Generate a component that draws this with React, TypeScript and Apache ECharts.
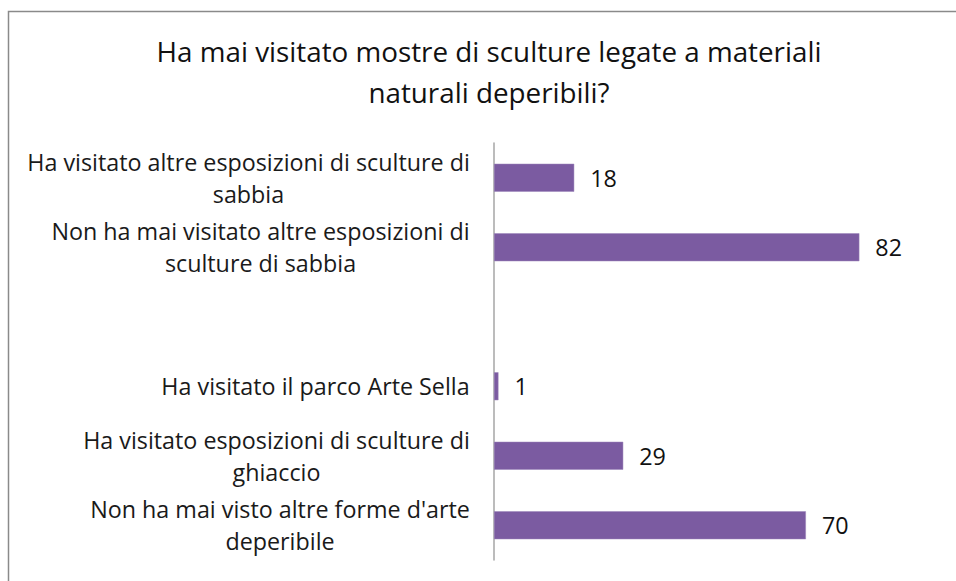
import React, { useEffect, useRef } from "react";
import * as echarts from "echarts";

const titleLines = ["Ha mai visitato mostre di sculture legate a materiali", "naturali deperibili?"];
const categories = [
  "Ha visitato altre esposizioni di sculture di\nsabbia",
  "Non ha mai visitato altre esposizioni di\nsculture di sabbia",
  "",
  "Ha visitato il parco Arte Sella",
  "Ha visitato esposizioni di sculture di\nghiaccio",
  "Non ha mai visto altre forme d'arte\ndeperibile",
];
const values: (number | null)[] = [18, 82, null, 1, 29, 70];

const FONT = "'Open Sans', Lato, sans-serif";
const LABEL_SIZE = 23.3;
const TITLE_SIZE = 27.8;
const BAR_COLOR = "#7B5BA1";

function measure(text: string, size: number): number {
  const c = document.createElement("canvas").getContext("2d");
  if (!c) return text.length * size * 0.5;
  c.font = `${size}px 'Open Sans'`;
  return c.measureText(text).width;
}

export default function App() {
  const ref = useRef<HTMLDivElement>(null);
  useEffect(() => {
    if (!ref.current) return;
    const chart = echarts.init(ref.current, undefined, { renderer: "svg" });
    const rich: Record<string, any> = {};
    categories.forEach((c, i) => {
      const lines = c.split("\n");
      const w = Math.ceil(Math.max(...lines.map((l) => measure(l, LABEL_SIZE))));
      rich["r" + i] = {
        width: w,
        align: "center",
        fontSize: LABEL_SIZE,
        fontFamily: FONT,
        color: "#1a1a1a",
        lineHeight: 32,
      };
    });
    chart.setOption({
      animation: false,
      backgroundColor: "#ffffff",
      title: {
        text: titleLines.join("\n"),
        left: 484,
        textAlign: "center",
        top: 25,
        textStyle: {
          fontFamily: FONT,
          fontSize: TITLE_SIZE,
          fontWeight: "normal",
          color: "#111",
          lineHeight: 41,
        },
      },
      graphic: [
        {
          type: "rect",
          shape: { x: 8.5, y: 11.5, width: 1000, height: 700 },
          style: { fill: "none", stroke: "#8a8a8a", lineWidth: 1.5 },
          silent: true,
          z: -10,
        },
      ],
      grid: { left: 494, right: 61, top: 143, bottom: 21, containLabel: false },
      xAxis: {
        type: "value",
        min: 0,
        max: 90,
        show: false,
      },
      yAxis: {
        type: "category",
        inverse: true,
        data: categories,
        axisLine: { show: true, lineStyle: { color: "#a6a6a6", width: 1.5 } },
        axisTick: { show: false },
        splitLine: { show: false },
        axisLabel: {
          margin: 24,
          interval: 0,
          formatter: (val: string, idx: number) =>
            val === "" ? "" : val.split("\n").map((l) => `{r${idx}|${l}}`).join("\n"),
          rich,
        },
      },
      series: [
        {
          type: "bar",
          data: values,
          barWidth: 28,
          itemStyle: { color: BAR_COLOR, borderColor: "#9c86bb", borderWidth: 0.5 },
          label: {
            show: true,
            position: "right",
            distance: 16,
            fontFamily: FONT,
            fontSize: LABEL_SIZE,
            color: "#111",
          },
        },
      ],
    });
    return () => chart.dispose();
  }, []);
  return (
    <div
      ref={ref}
      style={{ position: "fixed", left: 0, top: 0, width: 956, height: 581 }}
    />
  );
}
